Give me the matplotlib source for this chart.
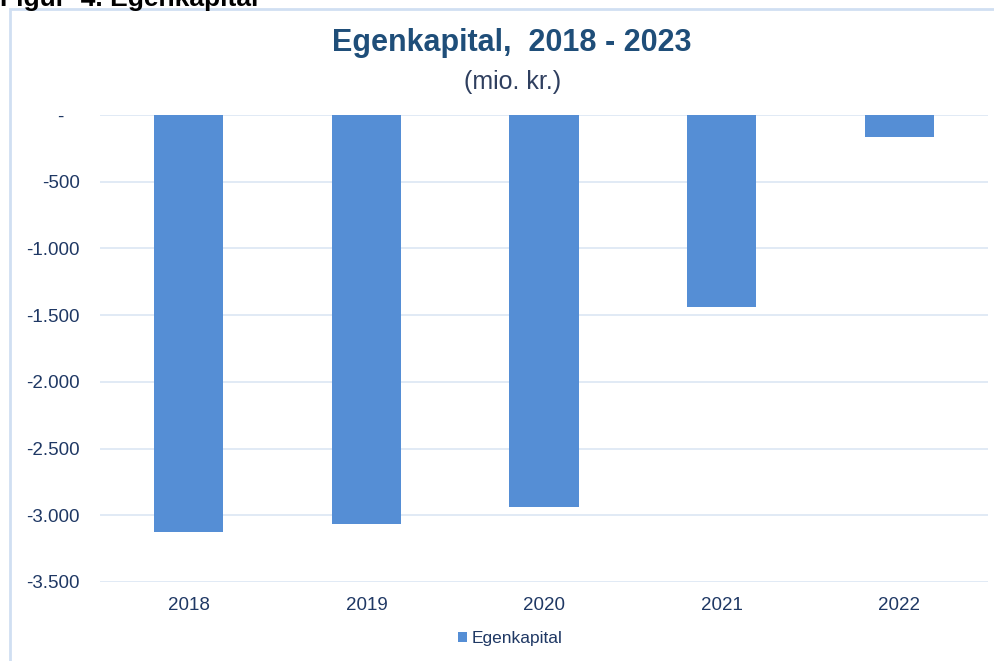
import matplotlib.pyplot as plt
from matplotlib.patches import Rectangle
from matplotlib.ticker import FuncFormatter

plt.rcParams['font.family'] = ['Liberation Sans', 'DejaVu Sans']

# data
aar = ['2018', '2019', '2020', '2021', '2022']
egenkapital = [-3125, -3065, -2940, -1440, -165]
yticks = [0, -500, -1000, -1500, -2000, -2500, -3000, -3500]

tekst_farve = '#1f3864'
bar_farve = '#558ed5'
grid_farve = '#dce6f4'

fig = plt.figure(figsize=(9.95, 6.61), dpi=100)

# ramme rundt om diagrammet
fig.patches.append(Rectangle((10 / 995, -0.01), 1.0, 1 - 9 / 661 + 0.01,
                             transform=fig.transFigure, fill=False,
                             edgecolor='#d0dff2', linewidth=2))

# overskrift over diagrammet (delvist skåret af som i originalen)
fig.text(0.0, 1 + 1 / 661, 'Figur  4. Egenkapital', ha='left', va='center',
         fontsize=19, fontweight='bold', color='black')

fig.text(0.514, 1 - 43 / 661, 'Egenkapital,  2018 - 2023', ha='center', va='center',
         fontsize=22, fontweight='bold', color='#1f4e79')
fig.text(0.515, 1 - 82 / 661, '(mio. kr.)', ha='center', va='center',
         fontsize=18, color='#2f3f5f')

ax = fig.add_axes([100 / 995, 1 - 582 / 661, 888 / 995, 467 / 661])
x = range(len(aar))
ax.bar(x, egenkapital, width=0.39, color=bar_farve, label='Egenkapital', zorder=3)

ax.set_ylim(-3500, 0)
ax.set_xlim(-0.5, len(aar) - 0.5)
ax.set_yticks(yticks)


def fmt(v, pos):
    if v == 0:
        return '-   '
    return f'{int(v):,}'.replace(',', '.')


ax.yaxis.set_major_formatter(FuncFormatter(fmt))
ax.set_xticks(list(x))
ax.set_xticklabels(aar)

ax.grid(axis='y', color=grid_farve, linewidth=1.2, zorder=0)
for s in ax.spines.values():
    s.set_visible(False)
ax.tick_params(axis='both', length=0, labelsize=13.5, labelcolor=tekst_farve)
ax.tick_params(axis='y', pad=14.4)
ax.tick_params(axis='x', pad=11)

ax.legend(loc='center', bbox_to_anchor=(0.462, -0.122), frameon=False,
          fontsize=12.5, labelcolor=tekst_farve, handlelength=0.5,
          handleheight=0.5, handletextpad=0.3)

fig.savefig('out.png', dpi=100)
